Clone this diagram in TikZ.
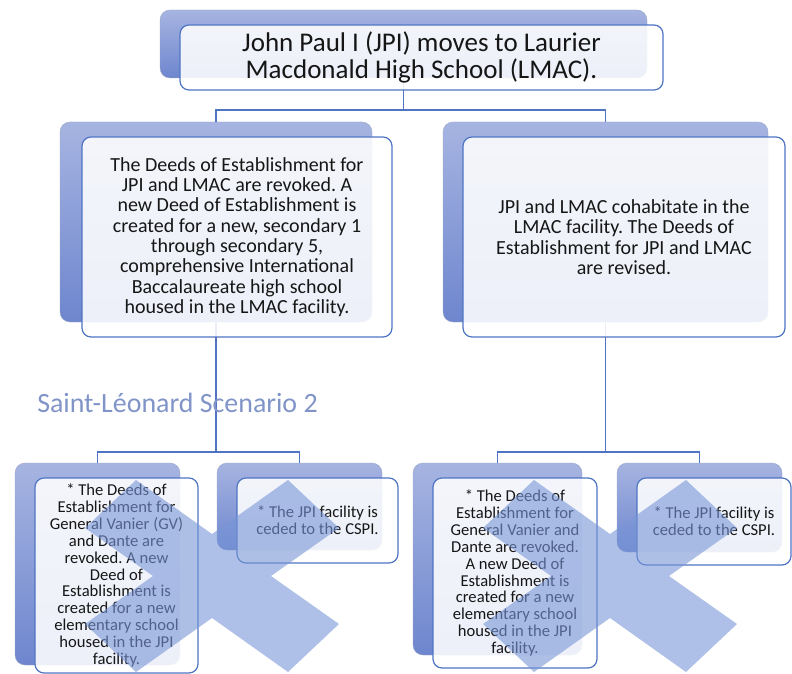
\documentclass[tikz,border=0pt]{standalone}
\usepackage{fontspec}
\setmainfont{Carlito}
\frenchspacing
\definecolor{backtop}{RGB}{166,180,225}
\definecolor{backbot}{RGB}{110,134,206}
\definecolor{edge}{RGB}{79,116,196}
\definecolor{crossblue}{RGB}{120,150,215}
\definecolor{titleblue}{RGB}{128,148,200}
\definecolor{ink}{RGB}{22,22,22}
\begin{document}
\begin{tikzpicture}[x=1pt,y=-1pt,
    back/.style={rounded corners=10pt, top color=backtop, bottom color=backbot, draw=backtop!75!gray, line width=0.4pt, inner sep=0pt},
    front/.style={rounded corners=9pt, draw=edge, line width=1.2pt, fill=white, fill opacity=0.88, text opacity=1, text=ink, align=center, inner sep=0pt},
    big/.style={font=\fontsize{27}{27.5}\selectfont},
    mid/.style={font=\fontsize{20}{20.3}\selectfont},
    small/.style={font=\fontsize{16.6}{16.9}\selectfont},
    link/.style={draw=edge, line width=1.5pt},
    crossfill/.style={fill=crossblue, fill opacity=0.6}]
                \useasboundingbox (0,0) rectangle (792,674);

                % back plates
                \node[back, minimum width=487pt, minimum height=68pt] (jpi) at (403.5,44) {};
                \node[back, minimum width=312pt, minimum height=200pt] (merge) at (216,222) {};
                \node[back, minimum width=325pt, minimum height=200pt] (cohab) at (605.5,222) {};
                \node[back, minimum width=165pt, minimum height=202pt] (gvA) at (97.5,564) {};
                \node[back, minimum width=165pt, minimum height=87pt] (cedeA) at (299.5,506.5) {};
                \node[back, minimum width=169pt, minimum height=192pt] (gvB) at (497.5,559) {};
                \node[back, minimum width=165pt, minimum height=89pt] (cedeB) at (699.5,507.5) {};

                \draw[link] (jpi.south) -- ++(0,32) -| (merge.north); \draw[link] (jpi.south) -- ++(0,32) -| (cohab.north);
                \draw[link] (merge.south) -- ++(0,130) -| (gvA.north); \draw[link] (merge.south) -- ++(0,130) -| (cedeA.north);
                \draw[link] (cohab.south) -- ++(0,130) -| (gvB.north); \draw[link] (cohab.south) -- ++(0,130) -| (cedeB.north);

                % text cards
                \node[front, big, minimum width=483pt, minimum height=65pt] (jpiT) at (421.5,57.5) {John Paul I (JPI) moves to Laurier\\Macdonald High School (LMAC).};
                \node[front, mid, minimum width=310pt, minimum height=200pt] (mergeT) at (237,237) {The Deeds of Establishment for\\JPI and LMAC are revoked. A\\new Deed of Establishment is\\created for a new, secondary 1\\through secondary 5,\\comprehensive International\\Baccalaureate high school\\housed in the LMAC facility.};
                \node[front, mid, minimum width=322pt, minimum height=200pt] (cohabT) at (624,237) {JPI and LMAC cohabitate in the\\LMAC facility. The Deeds of\\Establishment for JPI and LMAC\\are revised.};
                \node[front, small, minimum width=163pt, minimum height=195pt] (gvAT) at (116.5,575.5) {* The Deeds of\\Establishment for\\General Vanier (GV)\\and Dante are\\revoked. A new\\Deed of\\Establishment is\\created for a new\\elementary school\\housed in the JPI\\facility.};
                \node[front, small, minimum width=161pt, minimum height=85pt] (cedeAT) at (317.5,520.5) {* The JPI facility is\\ceded to the CSPI.};
                \node[front, small, minimum width=164pt, minimum height=190pt] (gvBT) at (515,573) {* The Deeds of\\Establishment for\\General Vanier and\\Dante are revoked.\\A new Deed of\\Establishment is\\created for a new\\elementary school\\housed in the JPI\\facility.};
                \node[front, small, minimum width=154pt, minimum height=87pt] (cedeBT) at (714,521.5) {* The JPI facility is\\ceded to the CSPI.};

                \node[font=\fontsize{27.9}{30}\selectfont, text=titleblue] (scen) at (177.5,403) {Saint-Léonard Scenario 2};

                % crosses over the lower cards
                \foreach \cx in {212,610} {
                    \fill[crossfill, shift={(\cx,576)}] (-76,-96) -- (0,-42) -- (76,-96) -- (127,-48) -- (59,0) -- (127,48) -- (76,96) -- (0,42) -- (-76,96) -- (-127,48) -- (-59,0) -- (-127,-48) -- cycle;
                }
            \end{tikzpicture}
\end{document}
